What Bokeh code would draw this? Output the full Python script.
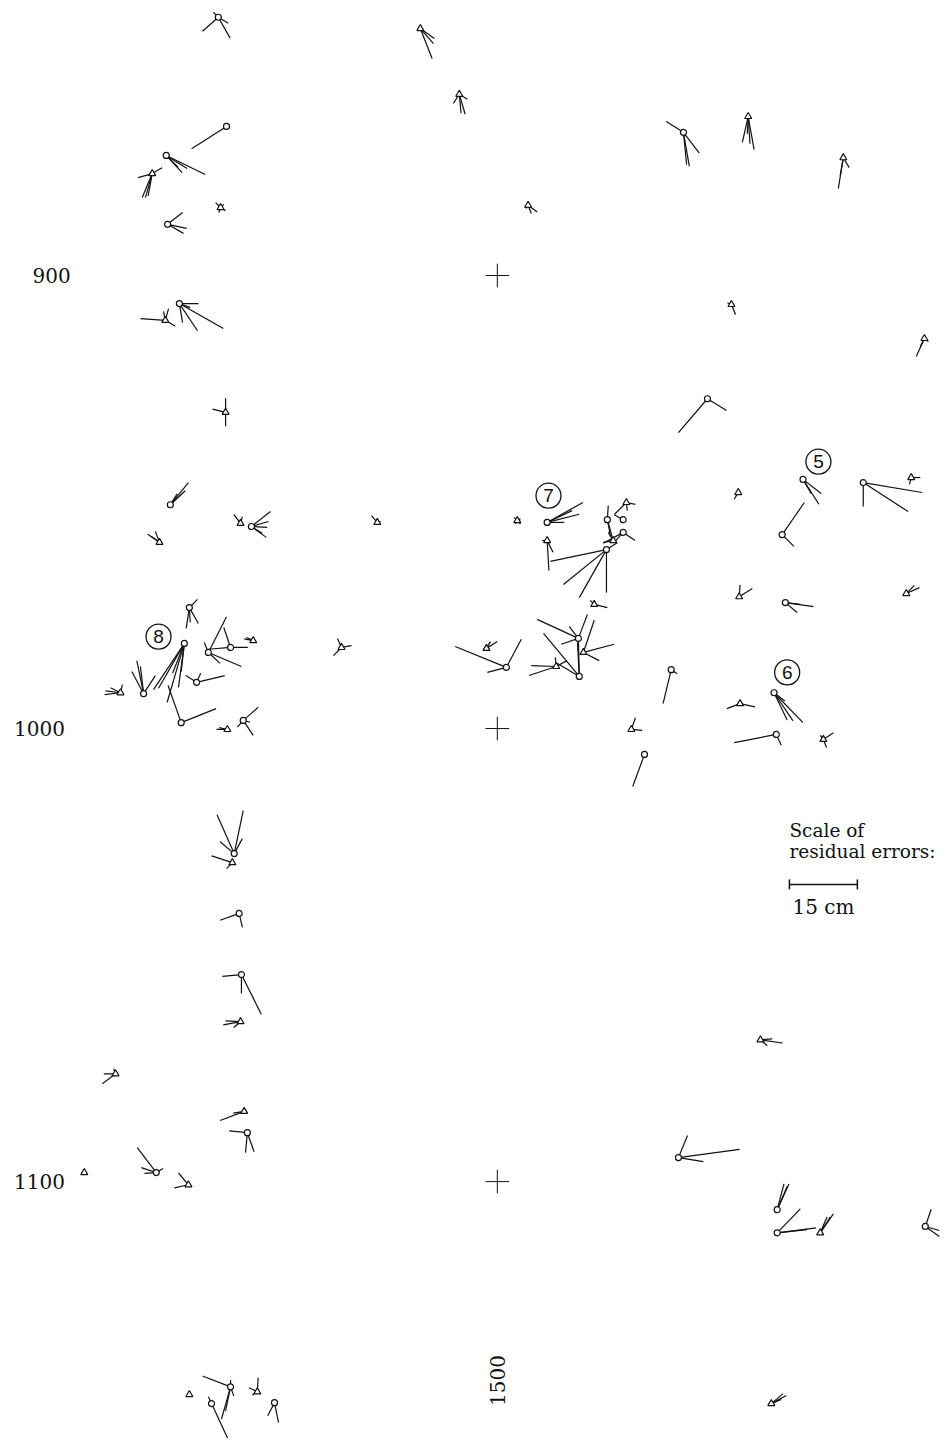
import math
from bokeh.plotting import figure
from bokeh.models import Range1d
from bokeh.embed import file_html
from bokeh.resources import INLINE
from bokeh.core.properties import value

# ---- stations (map coordinates; y grows downward) ----
stn_x = [1438.4, 1483.0, 1440.2, 1426.9, 1423.8, 1438.9, 1427.2, 1426.7, 1429.8, 1491.6,
         1541.1, 1506.8, 1555.4, 1576.4, 1551.7, 1594.3, 1546.4, 1440.0, 1427.8, 1425.4,
         1443.3, 1445.7, 1473.5, 1432.0, 1430.9, 1421.9, 1416.8, 1430.2, 1436.2, 1441.1,
         1446.1, 1433.6, 1443.9, 1440.4, 1465.6, 1511.0, 1504.4, 1511.0, 1524.1, 1524.3,
         1527.8, 1528.5, 1527.8, 1525.6, 1521.4, 1517.9, 1518.1, 1519.0, 1513.0, 1502.0,
         1497.6, 1538.4, 1529.6, 1532.5, 1553.2, 1567.5, 1580.8, 1591.4, 1562.9, 1553.4,
         1563.6, 1590.3, 1561.1, 1553.6, 1561.6, 1572.0, 1441.9, 1441.5, 1443.0, 1443.5,
         1443.3, 1415.7, 1444.1, 1444.8, 1424.7, 1431.8, 1408.8, 1558.1, 1540.0, 1561.8,
         1561.8, 1571.3, 1594.5, 1441.1, 1436.9, 1447.0, 1450.8, 1432.0, 1560.5]
stn_y = [843.0, 845.5, 867.1, 873.5, 877.5, 885.0, 888.7, 909.9, 906.2, 860.0,
         868.4, 884.5, 864.9, 874.0, 906.4, 913.9, 927.2, 930.2, 950.6, 958.9,
         954.7, 955.4, 954.5, 973.3, 981.2, 992.3, 992.1, 998.7, 983.2, 982.1,
         980.6, 989.8, 998.2, 1000.2, 982.1, 954.5, 954.1, 958.5, 960.5, 953.9,
         953.9, 950.1, 956.7, 958.5, 972.6, 980.1, 988.5, 983.2, 986.3, 986.5,
         982.3, 987.0, 1000.2, 1005.7, 947.9, 945.0, 945.7, 944.6, 957.2, 970.9,
         972.2, 970.2, 992.1, 994.5, 1001.3, 1002.4, 1027.6, 1029.6, 1040.8, 1054.3,
         1064.7, 1076.2, 1084.5, 1089.2, 1098.0, 1100.7, 1098.0, 1068.7, 1094.7, 1106.2,
         1111.3, 1111.3, 1109.9, 1145.3, 1149.0, 1146.4, 1148.8, 1147.0, 1149.0]
stn_kind = ["o", "t", "o", "o", "t", "t", "o", "t", "o", "t",
            "o", "t", "t", "t", "t", "t", "o", "t", "o", "t",
            "t", "o", "t", "o", "o", "o", "t", "o", "o", "o",
            "t", "o", "o", "t", "t", "o", "t", "t", "o", "o",
            "o", "t", "o", "t", "t", "o", "o", "t", "t", "o",
            "t", "o", "t", "o", "t", "o", "o", "t", "o", "t",
            "o", "t", "o", "t", "o", "t", "o", "t", "o", "o",
            "t", "t", "t", "o", "o", "t", "t", "t", "o", "o",
            "o", "t", "o", "o", "o", "t", "o", "t", "t"]

# ---- residual errors (cm) per station ----
res_dx = [[-3.5, 2.6, -1.1, 2.2], [2.6, 3.1, 2.9], [-7.7], [8.6, 3.5, 2.6, 4.6],
          [-3.1, -2.2, -1.5, -0.9, 2.2], [-1.1, 1.1, -0.4, 0.7], [3.3, 4.2, 3.5],
          [-5.5, 0.7, -0.4, 2.2], [4.2, 9.7, 4.0, 0.7, 2.4], [1.3, 0.4, -1.3, 1.8],
          [-3.8, 3.5, 1.3, 0.7], [2.0, 0.7, -0.4], [-1.3, 1.3, 0.4, -0.2], [-1.1, 1.3, -0.7],
          [0.9, -0.9, 0.4], [-1.8, 0.9, -0.9], [-6.4, 4.2], [0.0, 0.0, -2.9],
          [4.0, 3.3, 1.5], [-2.6, -0.9, -1.8], [-1.5, 0.4], [4.2, 3.8, 3.5, 3.3, 2.4],
          [-1.3, 0.7], [1.8, -0.7, 2.0, 0.2], [-6.8, -5.7, -3.8, -1.3, -2.6, -0.7],
          [-1.5, -2.6, 2.6, -0.7], [-3.5, -3.3, 0.4, -2.2], [7.7, -2.9],
          [4.0, 7.3, 2.6, -0.9], [-1.5, 3.8, -4.9], [-2.0, -1.5], [6.2, -2.4, 0.9],
          [3.3, 2.2, -1.3, 1.5], [-2.4, -1.8], [-1.8, -0.9, 2.2], [7.9, 7.1, 3.8, 5.5],
          [-0.7, 0.7, -0.4, 0.7], [0.4, 1.3, -1.1], [-12.4, -9.5, -6.0, 0.0, 2.4],
          [0.2, 1.3, 0.7], [-2.0], [-2.6, 2.0, 0.2], [2.6, -2.0, -4.4], [-2.2, -1.1],
          [2.9, -0.9], [-9.1, 2.0, -3.8, -2.0, 0.2], [-7.9, -0.4, -4.9], [6.8, 2.4, 3.5],
          [-6.0, -5.5, -0.2, 2.4], [-11.3, 3.3, -4.2], [2.4, 0.9], [-1.8, 1.3],
          [0.9, 2.4], [-2.6], [-0.9, 0.4], [3.5, 4.0, 1.8], [13.0, 9.9, 0.0], [2.0, -0.4],
          [4.9, 2.6], [2.9, 0.2], [6.2, 2.6, 3.3], [2.9, 1.8], [6.4, 4.2, 2.9, 2.4],
          [-2.9, 3.3], [-9.3, 1.1], [2.2, 0.7, -0.7], [-3.8, 2.0, 1.8, -3.1], [-4.6, -1.3],
          [-4.2, 0.7], [-4.2, 4.4, 0.0], [-3.8, -3.3, -1.5], [-2.9, -2.6, -0.4],
          [-5.3, -2.4], [-4.0, -0.4, 1.5], [-4.2, -3.3, -2.6, 1.5], [-2.2, -3.1], [],
          [4.9, 1.5, 2.6], [13.5, 2.0, 5.5], [2.6, 1.5, 2.2], [8.6, 5.1, 6.6], [2.9, 2.2, 1.5],
          [1.3, 3.1, 3.1], [-6.2, -2.0, -1.1, 0.0, 0.7], [4.0, -0.7], [0.2, -1.8, -1.1],
          [0.9, -1.5], [], [3.3, 2.6, 2.2]]
res_dy = [[3.1, 4.6, -1.1, 1.3], [6.6, 2.2, 3.3], [4.9], [4.2, 3.8, 2.6, 2.9],
          [0.9, 5.3, 5.3, 4.9, -1.3], [-1.1, 0.7, 1.1, -0.7], [-2.6, 0.9, 2.0],
          [-0.4, -2.6, -2.0, 1.3], [0.0, 5.5, 6.0, 4.2, 0.9], [4.4, 4.2, 2.0, 1.1],
          [-2.4, 4.6, 7.5, 7.1], [1.5, 1.8, 0.7], [5.7, 7.3, 6.0, 3.8], [6.8, 2.2, 4.0],
          [2.2, -0.4, 0.7], [4.0, 0.7, 1.8], [7.5, 2.6], [-3.1, 3.1, -0.7],
          [-4.9, -3.1, -2.4], [-1.8, -2.4, -1.3], [-2.0, -1.5], [-3.3, -1.1, 0.2, 2.4, 1.5],
          [-1.5, -0.2], [-1.8, 4.6, 3.5, 3.3], [10.2, 9.9, 13.0, 9.7, 6.6, 6.2],
          [-7.3, -4.9, -4.0, -6.0], [0.4, -0.4, -1.8, -1.1], [-3.1, -8.2],
          [-7.9, 3.1, 2.4, -2.2], [-4.4, 0.0, 0.4], [-0.4, -0.7], [-1.5, -1.5, -2.0],
          [-2.9, 3.3, 1.5, 0.4], [0.0, -0.4], [1.8, -2.0, -0.4], [-4.4, -1.8, 0.0, -2.6],
          [-0.7, -0.4, 0.7, 0.7], [6.6, 2.6, 0.0], [2.6, 7.7, 10.6, 9.5, -1.5],
          [-3.1, 4.6, 3.8], [-1.1], [2.6, 0.4, 1.8], [1.8, 2.2, 2.4], [0.4, -1.8],
          [0.7, -0.9], [-4.2, -5.3, 1.3, -2.6, 8.4], [-9.5, -7.5, -2.9], [-1.8, -7.1, 1.8],
          [2.0, -0.2, -2.0, -1.3], [-4.6, -6.2, 1.1], [-1.5, -1.5], [7.5, 0.9],
          [-2.6, 0.2], [7.1], [1.5, -0.4], [5.5, 3.1, 3.1], [2.2, 6.4, 5.3], [0.0, 1.5],
          [-7.1, 2.6], [-1.8, -2.6], [0.9, 2.2, 0.4], [-1.3, -1.8], [6.6, 6.2, 6.0, 1.8],
          [1.1, 0.7], [1.8, 2.4], [-1.5, 1.8, -0.9], [-8.6, -9.5, -3.3, -2.6], [-1.5, 1.3],
          [1.5, 3.1], [0.4, 8.8, 4.2], [0.7, -0.2, 1.3], [2.2, 0.0, -1.1],
          [2.0, 0.4], [-0.4, 4.4, 4.2], [-5.5, -1.1, 0.2, -0.9], [-2.6, 0.7], [],
          [0.7, 1.3, -0.2], [-1.8, -4.9, 0.9], [-5.7, -5.7, -5.1], [-1.1, -5.3, -0.7],
          [-4.2, -3.5, -3.5], [-3.8, 2.2, 0.9], [-2.4, 7.1, 5.3, -1.5, 2.0], [8.6, -1.5],
          [-3.1, -0.9, 0.7], [4.4, 2.9], [], [-1.8, -2.2, -0.9]]

# ---- reference crosses, tick labels, circled point numbers ----
cross_x = [1500, 1500, 1500]
cross_y = [900, 1000, 1100]
ytick_vals = [900, 1000, 1100]
ytick_text = ["900", "1000", "1100"]
xtick_vals = [1500]
xtick_text = ["1500"]
mark_num = ["5", "7", "8", "6"]
mark_x = [1570.9, 1511.3, 1425.2, 1564.0]
mark_y = [941.1, 948.6, 979.7, 987.6]
scale_cm = 15
CM = 1.0  # map units per cm of residual

INK = "#111111"
SERIF = value("DejaVu Serif")

p = figure(width=942, height=1438,
           x_range=Range1d(1390.3, 1598.3), y_range=Range1d(1156.7, 839.3),
           output_backend="svg", toolbar_location=None, min_border=0,
           x_axis_location=None, y_axis_location=None)
p.grid.visible = False
p.outline_line_color = None
p.background_fill_color = "white"

# residual vectors
x0, y0, x1, y1 = [], [], [], []
for i in range(len(stn_x)):
    for dx, dy in zip(res_dx[i], res_dy[i]):
        x0.append(stn_x[i]); y0.append(stn_y[i])
        x1.append(stn_x[i] + dx * CM); y1.append(stn_y[i] + dy * CM)
p.segment(x0=x0, y0=y0, x1=x1, y1=y1, line_color=INK, line_width=1.2)

# station markers
ox = [x for x, k in zip(stn_x, stn_kind) if k == "o"]
oy = [y for y, k in zip(stn_y, stn_kind) if k == "o"]
tx = [x for x, k in zip(stn_x, stn_kind) if k == "t"]
ty = [y for y, k in zip(stn_y, stn_kind) if k == "t"]
p.scatter(ox, oy, marker="circle", size=6, fill_color="white", line_color=INK, line_width=1.2)
p.scatter(tx, ty, marker="triangle", size=7, fill_color="white", line_color=INK, line_width=1.2)

# reference crosses
arm = 2.6
p.segment(x0=[c - arm for c in cross_x], y0=cross_y, x1=[c + arm for c in cross_x], y1=cross_y,
          line_color=INK, line_width=1)
p.segment(x0=cross_x, y0=[c - arm for c in cross_y], x1=cross_x, y1=[c + arm for c in cross_y],
          line_color=INK, line_width=1)

# coordinate labels
p.text(x=[1401.6, 1398.9, 1398.9], y=ytick_vals, text=ytick_text, text_font=SERIF,
       text_font_size="20px", text_align="center", text_baseline="middle", text_color=INK)
p.text(x=xtick_vals, y=[1143.9], text=xtick_text, text_font=SERIF, text_font_size="20px",
       text_align="center", text_baseline="middle", angle=math.pi / 2, text_color=INK)

# circled numbers
p.scatter(mark_x, mark_y, marker="circle", size=25, fill_color="white", line_color=INK, line_width=1.3)
p.text(x=mark_x, y=mark_y, text=mark_num, text_font=value("Liberation Sans"),
       text_font_size="19px", text_align="center", text_baseline="middle", text_color=INK)

# scale of residual errors
sx0 = 1564.5
sy = 1034.4
p.text(x=[sx0, sx0], y=[1022.5, 1027.2], text=["Scale of", "residual errors:"], text_font=SERIF,
       text_font_size="18.5px", text_align="left", text_baseline="middle", text_color=INK)
p.segment(x0=[sx0], y0=[sy], x1=[sx0 + scale_cm * CM], y1=[sy], line_color=INK, line_width=1.5)
p.segment(x0=[sx0, sx0 + scale_cm * CM], y0=[sy - 1.1, sy - 1.1],
          x1=[sx0, sx0 + scale_cm * CM], y1=[sy + 1.1, sy + 1.1], line_color=INK, line_width=1.5)
p.text(x=[sx0 + scale_cm * CM / 2], y=[1039.3], text=[f"{scale_cm} cm"], text_font=SERIF,
       text_font_size="20px", text_align="center", text_baseline="middle", text_color=INK)

open("out.html", "w").write(file_html(p, INLINE))
